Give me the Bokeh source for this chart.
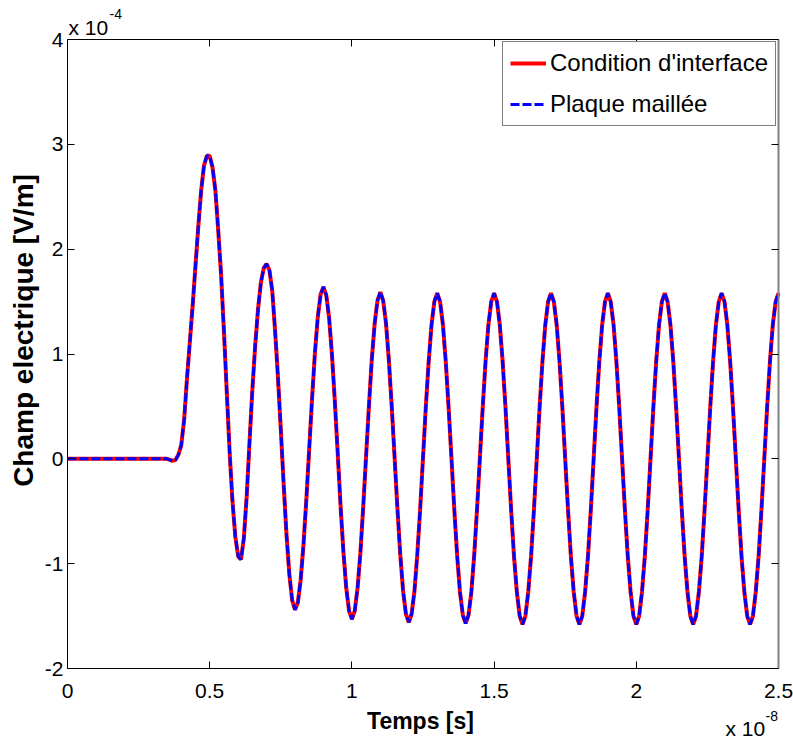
import numpy as np
from bokeh.plotting import figure
from bokeh.models import (Range1d, LinearAxis, FixedTicker, Label, Legend,
                          LegendItem, ColumnDataSource)
from bokeh.embed import file_html
from bokeh.resources import INLINE

# ---------------- data (time in units of 1e-8 s, field in units of 1e-4 V/m)
x_ticks = [0, 0.5, 1.0, 1.5, 2.0, 2.5]
x_tick_labels = ["0", "0.5", "1", "1.5", "2", "2.5"]
y_ticks = [-2, -1, 0, 1, 2, 3, 4]
y_tick_labels = ["-2", "-1", "0", "1", "2", "3", "4"]

# flat part before the pulse arrives
t_flat = [0.0, 0.10, 0.20, 0.30, 0.34]
e_flat = [0.0, 0.0, 0.0, 0.0, 0.0]

# pulse, sampled every 0.01 from t = 0.35 to 0.80
e_pulse = [
    0.00, -0.01, -0.02, -0.01, 0.04, 0.13, 0.37, 0.76, 1.11, 1.46,
    1.84, 2.22, 2.56, 2.80, 2.89, 2.89, 2.78, 2.56, 2.18, 1.76,
    1.22, 0.64, 0.07, -0.40, -0.74, -0.93, -0.96, -0.76, -0.36, 0.16,
    0.66, 1.08, 1.43, 1.68, 1.82, 1.86, 1.80, 1.60, 1.22, 0.78,
    0.28, -0.24, -0.72, -1.10, -1.35, -1.44,
]

# oscillation, sampled every 0.01 from t = 0.81 to 2.50
e_osc = [
    -1.37, -1.15, -0.81, -0.38, 0.10, 0.58, 1.01, 1.35, 1.57, 1.64,
    1.56, 1.34, 0.99, 0.55, 0.06, -0.44, -0.88, -1.23, -1.45, -1.53,
    -1.45, -1.23, -0.89, -0.45, 0.03, 0.51, 0.95, 1.29, 1.51, 1.59,
    1.51, 1.29, 0.94, 0.50, 0.02, -0.47, -0.91, -1.26, -1.48, -1.56,
    -1.48, -1.26, -0.91, -0.48, 0.01, 0.50, 0.93, 1.28, 1.50, 1.58,
    1.50, 1.28, 0.93, 0.49, 0.01, -0.48, -0.92, -1.27, -1.49, -1.57,
    -1.49, -1.27, -0.92, -0.48, 0.01, 0.49, 0.93, 1.28, 1.50, 1.58,
    1.50, 1.28, 0.93, 0.49, 0.00, -0.49, -0.93, -1.27, -1.50, -1.58,
    -1.50, -1.27, -0.93, -0.49, 0.00, 0.49, 0.93, 1.28, 1.50, 1.58,
    1.50, 1.28, 0.93, 0.49, 0.00, -0.49, -0.93, -1.27, -1.50, -1.58,
    -1.50, -1.27, -0.93, -0.49, 0.00, 0.49, 0.93, 1.28, 1.50, 1.58,
    1.50, 1.28, 0.93, 0.49, 0.00, -0.49, -0.93, -1.27, -1.50, -1.58,
    -1.50, -1.27, -0.93, -0.49, 0.00, 0.49, 0.93, 1.28, 1.50, 1.58,
    1.50, 1.28, 0.93, 0.49, 0.00, -0.49, -0.93, -1.27, -1.50, -1.58,
    -1.50, -1.27, -0.93, -0.49, 0.00, 0.49, 0.93, 1.28, 1.50, 1.58,
    1.50, 1.28, 0.93, 0.49, 0.00, -0.49, -0.93, -1.27, -1.50, -1.58,
    -1.50, -1.27, -0.93, -0.49, 0.00, 0.49, 0.93, 1.28, 1.50, 1.58,
]

t_start, t_step = 0.35, 0.01
n_sampled = len(e_pulse) + len(e_osc)
t_sampled = list(np.round(t_start + t_step * np.arange(n_sampled), 2))

time = t_flat + t_sampled
interface_condition = e_flat + e_pulse + e_osc   # Condition d'interface
meshed_plate = e_flat + e_pulse + e_osc          # Plaque maillée (overlaps)

src = ColumnDataSource(dict(t=time, a=interface_condition, b=meshed_plate))

# ---------------- layout (pixel geometry of the axes box on the canvas)
W, H = 793, 742
BOX_L, BOX_R, BOX_T, BOX_B = 67, 778, 39, 668
X0, X1, Y0, Y1 = 0.0, 2.5, -2.0, 4.0
FONT = "Liberation Sans"


def dx(px):  # canvas px -> data x
    return X0 + (px - BOX_L) * (X1 - X0) / (BOX_R - BOX_L)


def dy(py):  # canvas px (from top) -> data y
    return Y1 - (py - BOX_T) * (Y1 - Y0) / (BOX_B - BOX_T)


p = figure(width=W, height=H, title=None,
           x_range=Range1d(dx(0), dx(W)), y_range=Range1d(dy(H), dy(0)),
           x_axis_location=None, y_axis_location=None,
           output_backend="svg", toolbar_location=None,
           min_border=0, min_border_left=0, min_border_right=0,
           min_border_top=0, min_border_bottom=0)
p.xgrid.visible = False
p.ygrid.visible = False
p.outline_line_color = None
p.background_fill_color = "white"
p.border_fill_color = "white"


def make_axis(ticks, labels, loc, bounds, show, standoff, color="black", width=1):
    ax = LinearAxis(fixed_location=loc, bounds=bounds,
                    ticker=FixedTicker(ticks=ticks),
                    major_label_overrides={t: l for t, l in zip(ticks, labels)},
                    major_tick_in=7, major_tick_out=0,
                    minor_tick_line_color=None,
                    axis_line_color=color, axis_line_width=width,
                    major_tick_line_color="black",
                    major_label_standoff=standoff,
                    major_label_text_font=FONT,
                    major_label_text_font_size="21px",
                    major_label_text_color="black" if show else None)
    return ax


p.add_layout(make_axis(x_ticks, x_tick_labels, Y0, (X0, X1), True, 15), "below")
p.add_layout(make_axis(y_ticks, y_tick_labels, X0, (Y0, Y1), True, 4), "left")
p.add_layout(make_axis(x_ticks, x_tick_labels, Y1, (X0, X1), False, 0), "above")
p.add_layout(make_axis(y_ticks, y_tick_labels, X1, (Y0, Y1), False, 0,
                       color="#808080", width=2), "right")

# ---------------- lines
r1 = p.line("t", "a", source=src, line_color="#ff0000", line_width=4)
r2 = p.line("t", "b", source=src, line_color="#0000ff", line_width=3,
            line_dash="9 3")

legend = Legend(items=[LegendItem(label="Condition d'interface", renderers=[r1]),
                       LegendItem(label="Plaque maillée", renderers=[r2])],
                location=(502, H - 126), padding=7, spacing=13,
                glyph_width=36, glyph_height=24, label_standoff=4,
                label_text_font=FONT, label_text_font_size="24px",
                label_text_color="black",
                border_line_color="black", border_line_width=1,
                background_fill_color="white", background_fill_alpha=1.0)
p.add_layout(legend)

# ---------------- axis titles and exponent texts (placed by their centre line)


def text(sx, sy, s, size, **kw):
    p.add_layout(Label(x=dx(sx), y=dy(sy), text=s, text_font=FONT,
                       text_font_size=size, text_color="black",
                       text_baseline="middle", **kw))


text(420, 720, "Temps [s]", "23px", text_align="center", text_font_style="bold")
text(23, 330, "Champ electrique [V/m]", "28px", text_align="center",
     text_font_style="bold", angle=np.pi / 2)
text(68, 26.5, "x 10", "21px", text_align="left")
text(109, 13, "-4", "14px", text_align="left")
text(725, 728, "x 10", "21px", text_align="left")
text(765, 715, "-8", "14px", text_align="left")

open("out.html", "w").write(file_html(p, INLINE))
